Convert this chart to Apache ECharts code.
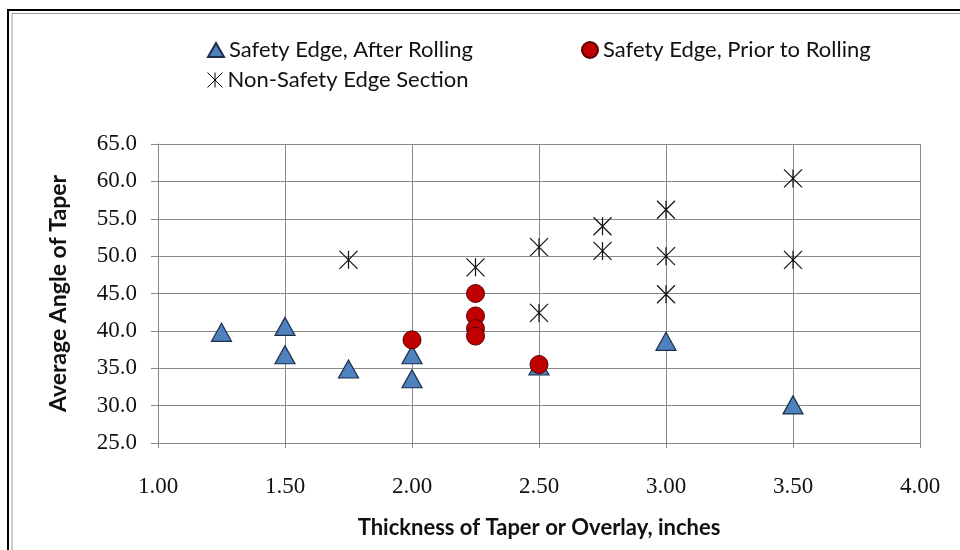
<!DOCTYPE html>
<html>
<head>
<meta charset="utf-8">
<script src="https://cdn.jsdelivr.net/npm/echarts@6/dist/echarts.min.js"></script>
<style>html,body{margin:0;padding:0;background:#fff}#c{width:960px;height:550px}</style>
</head>
<body>
<div id="c"></div>
<script>
// Data
const seriesNames = ['Safety Edge, After Rolling', 'Safety Edge, Prior to Rolling', 'Non-Safety Edge Section'];
const afterX = [1.25, 1.50, 1.50, 1.75, 2.00, 2.00, 2.50, 3.00, 3.50];
const afterY = [39.8, 40.6, 36.8, 34.9, 36.8, 33.6, 35.3, 38.6, 30.1];
const priorX = [2.00, 2.25, 2.25, 2.25, 2.25, 2.50];
const priorY = [38.8, 45.0, 42.0, 40.3, 39.3, 35.5];
const nonX = [1.75, 2.25, 2.50, 2.50, 2.75, 2.75, 3.00, 3.00, 3.00, 3.50, 3.50];
const nonY = [49.5, 48.5, 51.2, 42.4, 54.0, 50.7, 56.2, 50.0, 44.9, 60.4, 49.5];
const xTicks = [1.00, 1.50, 2.00, 2.50, 3.00, 3.50, 4.00];
const yTicks = [25, 30, 35, 40, 45, 50, 55, 60, 65];
const xTitle = 'Thickness of Taper or Overlay, inches';
const yTitle = 'Average Angle of Taper';

const pairs = (xs, ys) => xs.map((x, i) => [x, ys[i]]);
const sansFont = 'Lato, "Open Sans", sans-serif';
const serifFont = '"Liberation Serif", "DejaVu Serif", serif';
const starPath = 'path://M0,0L10,10M10,0L0,10M5,0L5,10';

const chart = echarts.init(document.getElementById('c'), null, {renderer: 'canvas'});
const legendText = {fontFamily: sansFont, fontSize: 22, color: '#111'};
chart.setOption({
  animation: false,
  backgroundColor: '#fff',
  graphic: [
    {type: 'rect', shape: {x: 8, y: 10, width: 962, height: 560}, style: {fill: 'none', stroke: '#000', lineWidth: 2}},
    {type: 'rect', shape: {x: 12, y: 13.5, width: 962, height: 560}, style: {fill: 'none', stroke: '#999', lineWidth: 1}}
  ],
  legend: [
    {data: [seriesNames[0]], left: 202, top: 34, itemWidth: 16, itemHeight: 14, itemGap: 3, textStyle: legendText},
    {data: [seriesNames[1]], left: 576, top: 34, itemWidth: 16, itemHeight: 16, itemGap: 3, textStyle: legendText},
    {data: [{name: seriesNames[2], itemStyle: {color: 'transparent', borderColor: '#000', borderWidth: 1}}], left: 202, top: 64, itemWidth: 15, itemHeight: 15, itemGap: 3, textStyle: legendText}
  ],
  grid: {left: 158, right: 40, top: 144, bottom: 107, containLabel: false},
  xAxis: {
    type: 'value', min: 1, max: 4, interval: 0.5,
    name: xTitle, nameLocation: 'middle', nameGap: 74,
    nameTextStyle: {fontFamily: sansFont, fontWeight: 'bold', fontSize: 22, color: '#111'},
    axisLine: {show: true, lineStyle: {color: '#868686', width: 1}},
    axisTick: {show: true, length: 5, lineStyle: {color: '#868686'}},
    axisLabel: {formatter: v => v.toFixed(2), fontFamily: serifFont, fontSize: 23, color: '#111', margin: 32},
    splitLine: {show: true, lineStyle: {color: '#8a8a8a', width: 1}}
  },
  yAxis: {
    type: 'value', min: 25, max: 65, interval: 5,
    name: yTitle, nameLocation: 'middle', nameGap: 88, nameRotate: 90,
    nameTextStyle: {fontFamily: sansFont, fontWeight: 'bold', fontSize: 23, color: '#111'},
    axisLine: {show: true, lineStyle: {color: '#868686', width: 1}},
    axisTick: {show: true, length: 7, lineStyle: {color: '#868686'}},
    axisLabel: {formatter: v => v.toFixed(1), fontFamily: serifFont, fontSize: 23, color: '#111', margin: 21},
    splitLine: {show: true, lineStyle: {color: '#8a8a8a', width: 1}}
  },
  series: [
    {name: seriesNames[0], type: 'scatter', data: pairs(afterX, afterY), symbol: 'triangle', symbolSize: [20, 18],
      itemStyle: {color: '#4F81BD', borderColor: '#1c2f4a', borderWidth: 1.2, opacity: 1}, z: 3},
    {name: seriesNames[1], type: 'scatter', data: pairs(priorX, priorY), symbol: 'circle', symbolSize: 18,
      itemStyle: {color: '#C00000', borderColor: '#5a0000', borderWidth: 1, opacity: 1}, z: 4},
    {name: seriesNames[2], type: 'scatter', data: pairs(nonX, nonY), symbol: starPath, symbolSize: 18,
      itemStyle: {color: 'transparent', borderColor: '#111', borderWidth: 1.2, opacity: 1}, z: 5}
  ]
});
</script>
</body>
</html>
